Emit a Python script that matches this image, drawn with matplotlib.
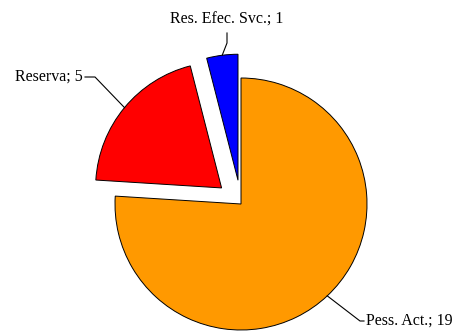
import matplotlib.pyplot as plt
import numpy as np

plt.rcParams['font.family'] = ['Liberation Serif', 'DejaVu Serif']

labels = ["Pess. Act.", "Reserva", "Res. Efec. Svc."]
values = [19, 5, 1]
colors = ['#FF9900', '#FF0000', '#0000FF']
explode = [0.0, 0.2, 0.19]

W, H = 459, 332
CENTER = (241, H - 204)
RADIUS = 126

# label layout: (elbow point, text end point, text position, ha) in pixel coords (y down)
LABEL_LAYOUT = [
    ((360, 321), (364, 321), (366, 321), 'left'),
    ((95, 77), (85, 77), (83, 77), 'right'),
    ((227, 43), (227, 33), (227, 20), 'center'),
]


def to_ax(p):
    return p[0], H - p[1]


fig = plt.figure(figsize=(W / 100, H / 100), dpi=100)
ax = fig.add_axes([0, 0, 1, 1])

# pie's explode is in data units, so scale it by the radius
wedges, _ = ax.pie(values, colors=colors, explode=[e * RADIUS for e in explode],
                   startangle=90, counterclock=False,
                   center=CENTER, radius=RADIUS,
                   wedgeprops=dict(edgecolor='black', linewidth=0.7))

for wedge, label, value, (elbow, end, tpos, ha) in zip(wedges, labels, values, LABEL_LAYOUT):
    mid = np.deg2rad((wedge.theta1 + wedge.theta2) / 2)
    cx, cy = wedge.center
    edge = (cx + wedge.r * np.cos(mid), cy + wedge.r * np.sin(mid))
    ex, ey = to_ax(elbow)
    nx, ny = to_ax(end)
    ax.plot([edge[0], ex, nx], [edge[1], ey, ny], color='black', linewidth=0.8)
    tx, ty = to_ax(tpos)
    ax.text(tx, ty, f"{label}; {value}", ha=ha, va='center', fontsize=11.5, color='black')

ax.set_xlim(0, W)
ax.set_ylim(0, H)
ax.set_aspect('equal')
ax.axis('off')

plt.savefig("out.png", dpi=100)
